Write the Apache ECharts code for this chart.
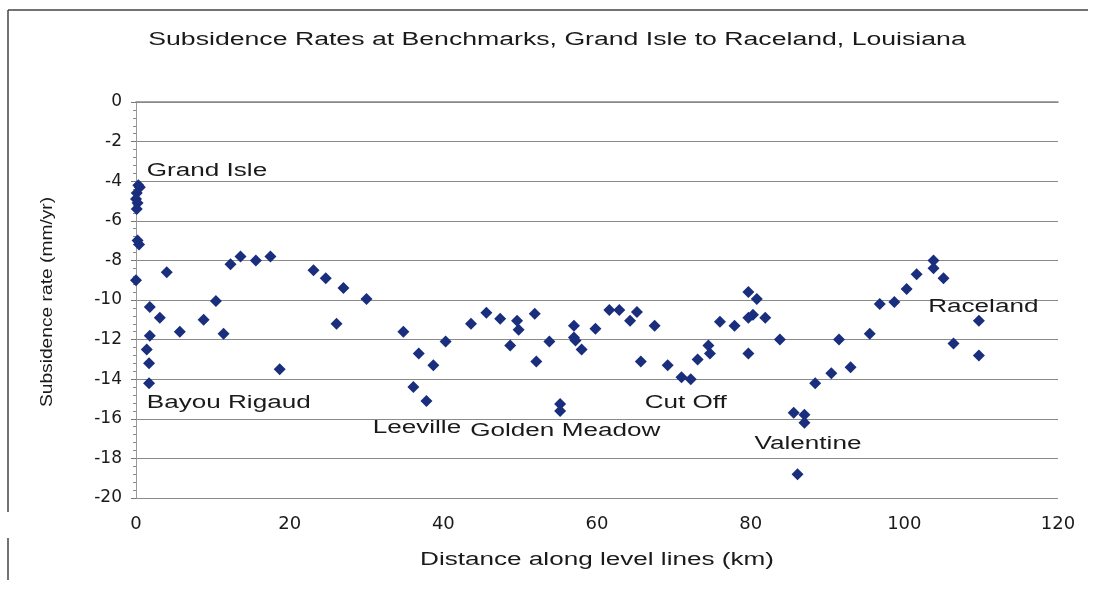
<!DOCTYPE html>
<html>
<head>
<meta charset="utf-8">
<script src="https://cdn.jsdelivr.net/npm/echarts@6/dist/echarts.min.js"></script>
<style>
  html, body { margin: 0; padding: 0; background: #fff; }
  #main { width: 1093px; height: 592px; }
</style>
</head>
<body>
<div id="main"></div>
<script>
// distance along level lines (km) and subsidence rate (mm/yr)
const distanceKm = [
  0.3, 0.5, 0.1, 0.0, 0.2, 0.1, 0.2, 0.4, 0.0, 1.8,
  3.1, 4.0, 1.8, 1.4, 1.7, 1.7, 5.7, 8.8, 10.4, 11.4,
  12.3, 13.6, 15.6, 17.5, 18.7, 23.1, 24.7, 26.1, 27.0, 30.0,
  34.8, 36.8, 38.7, 36.1, 37.8, 40.3, 43.6, 45.6, 47.4, 49.6,
  49.8, 48.7, 51.9, 52.1, 53.8, 55.2, 55.2, 57.0, 57.0, 57.2,
  58.0, 59.8, 61.6, 62.9, 65.2, 64.3, 67.5, 65.7, 69.2, 71.0,
  72.2, 73.1, 74.5, 74.7, 76.0, 77.9, 79.7, 80.8, 79.7, 80.3,
  81.9, 79.7, 83.8, 85.6, 87.0, 87.0, 86.1, 88.4, 90.5, 91.5,
  93.0, 95.5, 96.8, 98.7, 100.3, 101.6, 103.8, 103.8, 105.1, 106.4,
  109.7, 109.7
];
const rateMmYr = [
  -4.2, -4.3, -4.6, -4.9, -5.1, -5.4, -7.0, -7.2, -9.0, -10.35,
  -10.9, -8.6, -11.8, -12.5, -13.2, -14.2, -11.6, -11.0, -10.05, -11.7,
  -8.2, -7.8, -8.0, -7.8, -13.5, -8.5, -8.9, -11.2, -9.4, -9.95,
  -11.6, -12.7, -13.3, -14.4, -15.1, -12.1, -11.2, -10.65, -10.95, -11.05,
  -11.5, -12.3, -10.7, -13.1, -12.1, -15.25, -15.6, -11.3, -11.9, -12.05,
  -12.5, -11.45, -10.5, -10.5, -10.6, -11.05, -11.3, -13.1, -13.3, -13.9,
  -14.0, -13.0, -12.3, -12.7, -11.1, -11.3, -9.6, -9.95, -10.9, -10.75,
  -10.9, -12.7, -12.0, -15.7, -15.8, -16.2, -18.8, -14.2, -13.7, -12.0,
  -13.4, -11.7, -10.2, -10.1, -9.45, -8.7, -8.0, -8.4, -8.9, -12.2,
  -11.05, -12.8
];

// place names on the chart: left edge of the text, vertical middle (data units)
const placeNames = ['Grand Isle', 'Bayou Rigaud', 'Leeville', 'Golden Meadow', 'Cut Off', 'Valentine', 'Raceland'];
const placeX = [1.4, 1.4, 30.8, 43.5, 66.2, 80.5, 103.1];
const placeY = [-3.5, -15.2, -16.45, -16.6, -15.2, -17.25, -10.35];

const titleText = 'Subsidence Rates at Benchmarks, Grand Isle to Raceland, Louisiana';
const xName = 'Distance along level lines (km)';
const yName = 'Subsidence rate (mm/yr)';

const points = distanceKm.map((d, i) => [d, rateMmYr[i]]);

// the scanned text is stretched sideways, so text is drawn with a scaleX
const font = '18px "Liberation Sans"';
const stretch = 1.45;

const option = {
  backgroundColor: '#fff',
  animation: false,
  grid: {
    left: 136,
    right: 35,
    top: 102,
    bottom: 94
  },
  xAxis: {
    type: 'value',
    min: 0,
    max: 120,
    interval: 20,
    axisLine: { show: true, lineStyle: { color: '#888', width: 1.5 } },
    axisTick: { show: false },
    splitLine: { show: false },
    axisLabel: {
      margin: 17,
      fontFamily: 'DejaVu Sans',
      fontSize: 18,
      color: '#1a1a1a'
    }
  },
  yAxis: {
    type: 'value',
    min: -20,
    max: 0,
    interval: 2,
    axisLine: { show: true, lineStyle: { color: '#999', width: 1 } },
    axisTick: { show: true, length: 5, lineStyle: { color: '#777' } },
    minorTick: { show: true, splitNumber: 5, length: 3, lineStyle: { color: '#888' } },
    splitLine: { show: true, lineStyle: { color: '#8a8a8a', width: 1.2 } },
    axisLabel: {
      margin: 14,
      fontFamily: 'DejaVu Sans',
      fontSize: 17,
      color: '#1a1a1a'
    }
  },
  series: [
    {
      name: 'Benchmarks',
      type: 'scatter',
      symbol: 'diamond',
      symbolSize: [12, 12],
      itemStyle: { color: '#1a2e7e', opacity: 1 },
      data: points,
      z: 3
    }
  ]
};

const myChart = echarts.init(document.getElementById('main'));
myChart.setOption(option);

// place labels positioned through the axes
const placeTexts = placeNames.map((n, i) => {
  const p = myChart.convertToPixel({ gridIndex: 0 }, [placeX[i], placeY[i]]);
  return {
    type: 'text',
    x: p[0],
    y: p[1],
    scaleX: stretch,
    z: 10,
    style: { text: n, font: font, fill: '#1a1a1a', align: 'left', verticalAlign: 'middle' }
  };
});

myChart.setOption({
  graphic: [
    { type: 'line', shape: { x1: 8, y1: 10, x2: 1088, y2: 10 }, style: { stroke: '#444', lineWidth: 1.5 } },
    { type: 'line', shape: { x1: 8, y1: 10, x2: 8, y2: 512 }, style: { stroke: '#444', lineWidth: 1.5 } },
    { type: 'line', shape: { x1: 8, y1: 538, x2: 8, y2: 580 }, style: { stroke: '#444', lineWidth: 1.5 } },
    {
      type: 'text', x: 557, y: 40, scaleX: 1.48,
      style: { text: titleText, font: font, fill: '#1a1a1a', align: 'center', verticalAlign: 'middle' }
    },
    {
      type: 'text', x: 597, y: 560, scaleX: stretch,
      style: { text: xName, font: font, fill: '#1a1a1a', align: 'center', verticalAlign: 'middle' }
    },
    {
      type: 'text', x: 48, y: 302, rotation: Math.PI / 2, scaleX: 1.2,
      style: { text: yName, font: '16px "Liberation Sans"', fill: '#1a1a1a', align: 'center', verticalAlign: 'middle' }
    }
  ].concat(placeTexts)
});
</script>
</body>
</html>
